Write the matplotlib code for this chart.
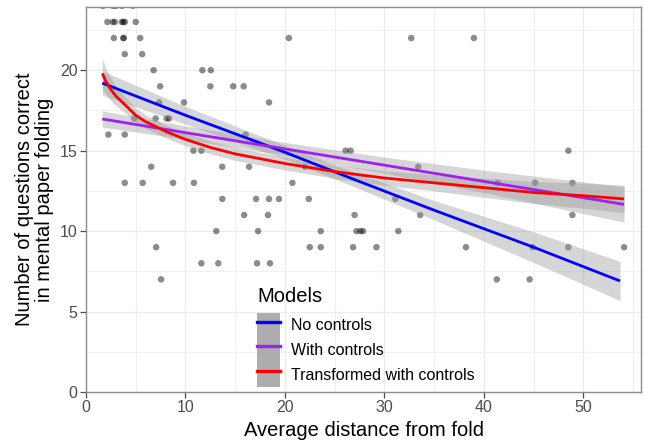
import matplotlib
matplotlib.use("Agg")
import matplotlib.pyplot as plt
from matplotlib.lines import Line2D
from matplotlib.patches import Patch
from matplotlib.legend_handler import HandlerTuple
from matplotlib.ticker import MultipleLocator

plt.rcParams['font.family'] = ['Liberation Sans', 'DejaVu Sans']

# ---- observed data (distance, questions correct) ----
dist = [1.7, 2.7, 3.0, 3.6, 4.7,
        2.15, 2.7, 2.9, 3.6, 3.75, 3.9, 5.0,
        2.8, 3.75, 3.8, 5.45, 20.4, 32.7, 39.0,
        3.9, 5.65,
        6.8, 11.7, 12.55,
        7.45, 12.5, 14.8, 15.85,
        7.35, 9.85, 18.4,
        4.85, 7.0, 8.1, 8.35,
        2.25, 3.9, 16.05,
        10.8, 11.6, 26.1, 26.6, 48.5,
        6.55, 13.7, 16.4, 22.0, 33.4,
        3.9, 5.7, 8.75, 10.85, 20.75, 41.4, 45.15, 48.9,
        13.7, 17.1, 18.4, 19.4, 22.4, 31.1,
        15.9, 18.3, 27.0, 33.6, 48.9,
        13.1, 17.3, 23.6, 27.2, 27.6, 27.85, 31.4,
        7.05, 22.5, 23.6, 26.85, 29.2, 38.2, 44.9, 48.5, 54.1,
        11.6, 13.3, 17.2, 18.5,
        7.55, 41.3, 44.6]
correct = [24] * 5 + [23] * 7 + [22] * 7 + [21] * 2 + [20] * 3 + [19] * 4 + \
          [18] * 3 + [17] * 4 + [16] * 3 + [15] * 5 + [14] * 5 + [13] * 8 + \
          [12] * 6 + [11] * 5 + [10] * 7 + [9] * 9 + [8] * 4 + [7] * 3

# ---- fitted curves ----
blue_x = [1.64, 10, 20, 27, 35, 45, 53.7]
blue_y = [19.2, 17.2, 14.9, 13.2, 11.3, 9.0, 6.9]
blue_se = [0.75, 0.55, 0.42, 0.45, 0.6, 0.95, 1.22]

purple_x = [1.64, 10, 20, 30, 40, 54.1]
purple_y = [16.97, 16.12, 15.11, 14.10, 13.09, 11.66]
purple_se = [0.5, 0.42, 0.4, 0.5, 0.7, 1.1]

red_x = [1.64, 2.0, 2.5, 3.0, 4.0, 5.0, 6.0, 8.0, 10, 12.5, 15, 20, 25, 30, 35, 40, 45, 50, 54.1]
red_y = [19.8, 19.3, 18.8, 18.4, 17.8, 17.2, 16.8, 16.2, 15.7, 15.2, 14.8, 14.2, 13.7, 13.3,
         13.0, 12.7, 12.4, 12.2, 12.0]
red_se = [0.95, 0.8, 0.7, 0.6, 0.5, 0.45, 0.42, 0.4, 0.4, 0.4, 0.4, 0.4, 0.42, 0.45,
          0.5, 0.6, 0.68, 0.78, 0.85]

labels = ["No controls", "With controls", "Transformed with controls"]
colors = ["#0000FF", "#A020F0", "#FF0000"]

fig = plt.figure(figsize=(6.45, 4.42), dpi=100)
ax = fig.add_axes([86 / 645, 1 - 392 / 442, (641 - 86) / 645, (392 - 7) / 442])

ax.set_xlim(0, 55.8)
ax.set_ylim(0, 23.93)

ax.xaxis.set_major_locator(MultipleLocator(10))
ax.xaxis.set_minor_locator(MultipleLocator(5))
ax.yaxis.set_major_locator(MultipleLocator(5))
ax.yaxis.set_minor_locator(MultipleLocator(2.5))
ax.grid(which='major', color='#EBEBEB', lw=0.9, zorder=0)
ax.grid(which='minor', color='#F0F0F0', lw=0.8, zorder=0)
ax.set_axisbelow(True)

ax.scatter(dist, correct, s=22, color='black', alpha=0.45, edgecolors='none', zorder=2)

def lo(y, s):
    return [a - b for a, b in zip(y, s)]

def hi(y, s):
    return [a + b for a, b in zip(y, s)]

for xs, ys, se in [(blue_x, blue_y, blue_se), (purple_x, purple_y, purple_se), (red_x, red_y, red_se)]:
    ax.fill_between(xs, lo(ys, se), hi(ys, se), color='#999999', alpha=0.4, lw=0, zorder=3)

for xs, ys, c in [(blue_x, blue_y, colors[0]), (purple_x, purple_y, colors[1]), (red_x, red_y, colors[2])]:
    ax.plot(xs, ys, color=c, lw=2.0, zorder=4, solid_capstyle='butt')

for sp in ax.spines.values():
    sp.set_color('#8C8C8C')
    sp.set_linewidth(1.0)

ax.tick_params(which='major', length=4, width=0.9, color='#4D4D4D', labelcolor='#4D4D4D',
               labelsize=11.5, pad=2)
ax.tick_params(which='minor', length=0)

ax.set_xlabel("Average distance from fold", fontsize=14.5, labelpad=4)
ax.set_ylabel("Number of questions correct\nin mental paper folding", fontsize=14.5,
              labelpad=4, linespacing=1.08)

handles = [(Patch(facecolor='#ADADAD', edgecolor='none'),
            Line2D([], [], color=c, lw=2.4)) for c in colors]
leg = ax.legend(handles, labels, handler_map={tuple: HandlerTuple(ndivide=1, pad=0)},
                loc='upper left', bbox_to_anchor=(257 / 645, 1 - 313 / 442),
                bbox_transform=fig.transFigure, frameon=False, fontsize=11.5,
                handlelength=1.45, handleheight=2.0, labelspacing=0.0,
                handletextpad=0.65, borderpad=0, borderaxespad=0)
fig.text(257 / 645, 1 - 302 / 442, "Models", fontsize=14.5, ha='left', va='baseline')

fig.savefig("out.png", dpi=100)
